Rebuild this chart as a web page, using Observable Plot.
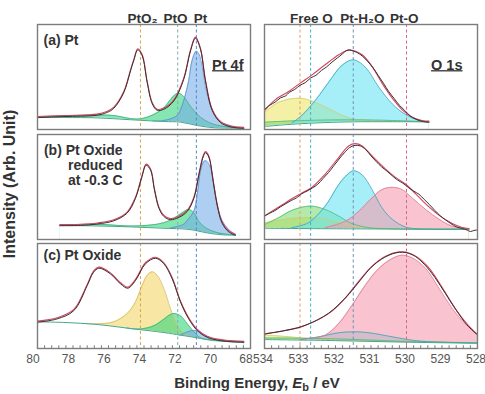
<!DOCTYPE html>
<html>
<head>
<meta charset="utf-8">
<script src="https://cdn.jsdelivr.net/npm/d3@7"></script>
<script src="https://cdn.jsdelivr.net/npm/@observablehq/plot@0.6"></script>
<style>
  body { margin: 0; background: #fff; }
  #fig { position: relative; width: 485px; height: 394px; overflow: hidden; background: #fff;
         font-family: "Liberation Sans", Arial, sans-serif; }
  #fig svg { position: absolute; overflow: visible; }
  .axis-title { position: absolute; font-weight: bold; color: #333; white-space: nowrap; }
  .axis-title sub { font-size: 11px; vertical-align: -3px; line-height: 0; }
</style>
</head>
<body>
<div id="fig"></div>
<script>
// ---------- axes ----------
const pt4fTicks = [80, 78, 76, 74, 72, 70, 68];
const o1sTicks = [534, 533, 532, 531, 530, 529, 528];

// peak positions (eV) marked by dashed guides
const pt4fPeaks = [
  {name: "PtO₂", be: 74.2, color: "#d6a54c"},
  {name: "PtO", be: 72.1, color: "#7fb0a6"},
  {name: "Pt", be: 71.05, color: "#4f8bcb"}
];
const o1sPeaks = [
  {be: 533.0, color: "#e39f6c"},
  {be: 532.7, color: "#3cb6c0"},
  {be: 531.5, color: "#6f92b6"},
  {be: 530.0, color: "#d9668a"}
];
// header labels and where they sit along the energy axis
const pt4fHeads = [
  {name: "PtO₂", at: 74.08},
  {name: "PtO", at: 72.23},
  {name: "Pt", at: 70.82}
];
const o1sHeads = [
  {name: "Free O", at: 532.68},
  {name: "Pt-H₂O", at: 531.24},
  {name: "Pt-O", at: 530.06}
];

// ---------- Pt 4f spectra [binding energy, intensity] ----------
const ptA_fit = [[80.0,11.7],[78.52,12.7],[76.64,14.0],[76.1,16.5],[75.7,20.6],[75.14,35.5],[74.76,56.2],[74.57,66.4],[74.35,76.3],[74.1,70.5],[73.82,45.1],[73.54,25.1],[73.26,18.7],[72.88,19.7],[72.32,27.6],[71.76,48.3],[71.38,75.2],[71.1,87.3],[70.82,76.8],[70.54,46.7],[70.16,18.7],[69.69,7.0],[69.13,2.9],[68.38,1.4]];
const ptA_bg = [[80,11.7],[78.5,11.4],[76.64,11.1],[74.76,9.3],[72.88,7.6],[71.94,7.0],[71.0,3.8],[70.07,1.7],[68.38,1.2]];
const ptA_PtO = [[80,11.9],[78.5,12.7],[77.1,13.6],[75.7,13.3],[74.76,10.4],[74.2,10.2],[73.45,14.3],[72.88,20.6],[72.51,28.3],[72.23,33.3],[72.04,34.6],[71.76,31.4],[71.48,24.4],[71.19,18.1],[70.82,11.7],[70.25,6.0],[69.5,2.9],[68.38,1.2]];
const ptA_Pt = [[73.5,8.2],[72.88,8.6],[72.13,13.3],[71.85,22.9],[71.66,33.6],[71.48,46.7],[71.29,65.7],[71.06,74.6],[70.91,72.1],[70.72,59.4],[70.54,40.3],[70.25,22.9],[69.88,10.2],[69.31,3.8],[68.38,1.2]];

const ptB_fit = [[78.74,13.5],[77.58,13.8],[76.64,15.1],[75.7,18.2],[74.95,25.5],[74.48,39.6],[74.14,58.5],[73.88,71.1],[73.63,66.4],[73.41,47.5],[73.16,30.2],[72.88,22.3],[72.51,19.2],[72.04,21.4],[71.57,27.0],[71.19,39.6],[70.91,61.6],[70.67,78.9],[70.54,83.0],[70.35,78.9],[70.1,55.3],[69.88,33.3],[69.6,16.0],[69.22,7.5],[68.85,4.4]];
const ptB_bg = [[78.74,13.4],[76.64,12.9],[74.76,12.0],[72.88,10.7],[71.57,9.8],[71.0,8.2],[70.25,5.7],[69.5,4.4],[68.85,4.1]];
const ptB_PtO = [[78.74,13.6],[76.64,14.5],[74.76,12.9],[73.63,13.8],[72.88,16.0],[72.32,20.1],[71.85,25.5],[71.48,28.6],[71.19,25.5],[70.91,17.3],[70.54,11.3],[69.88,6.6],[68.85,4.1]];
const ptB_Pt = [[72.51,10.9],[71.76,14.5],[71.57,18.0],[71.19,27.0],[71.0,42.8],[70.82,64.8],[70.63,74.2],[70.48,74.8],[70.25,67.9],[70.07,52.2],[69.88,32.0],[69.6,18.2],[69.22,9.3],[68.85,4.8]];

const ptC_fit = [[80.0,25.4],[78.89,28.6],[77.95,36.5],[77.2,60.3],[76.86,72.5],[76.55,76.8],[75.89,71.4],[75.32,61.9],[74.91,57.8],[74.48,65.1],[73.92,81.0],[73.35,86.3],[72.88,81.0],[72.41,66.7],[71.94,44.4],[71.48,28.6],[71.0,17.5],[70.44,11.1],[69.69,7.9],[68.94,6.6],[68.38,6.3]];
const ptC_bg = [[80,25.4],[78.52,24.8],[76.64,22.9],[74.76,19.0],[72.88,15.2],[71.94,12.7],[71.0,10.2],[70.07,7.9],[68.38,6.3]];
const ptC_PtO2 = [[77.5,23.9],[76.64,23.5],[75.7,25.4],[74.95,33.3],[74.48,44.4],[74.1,60.3],[73.82,69.8],[73.54,73.0],[73.26,69.8],[72.88,57.1],[72.51,38.1],[72.13,22.2],[71.76,14.3],[71.0,10.2],[70.07,7.9],[68.38,6.3]];
const ptC_PtO = [[75.0,19.6],[74.2,18.6],[73.45,21.6],[72.88,27.9],[72.51,32.4],[72.28,33.3],[71.94,31.1],[71.57,23.8],[71.19,15.9],[70.82,10.2],[70.25,7.9],[69.13,6.5],[68.38,6.3]];
const ptC_Pt = [[72.0,12.5],[71.6,15.5],[71.3,17.0],[71.0,16.8],[70.7,13.5],[70.4,10.2],[69.9,8.0],[69.0,6.6],[68.38,6.3]];

// ---------- O 1s spectra ----------
const oA_fit = [[533.98,18.1],[533.7,27.6],[533.32,35.5],[532.99,43.5],[532.66,51.4],[532.29,61.0],[531.91,70.5],[531.67,74.6],[531.49,74.6],[531.25,70.5],[530.97,59.4],[530.69,43.5],[530.4,29.2],[530.12,18.1],[529.84,11.1],[529.56,7.9],[529.37,7.3]];
const oA_meas = [[534.0,19.5],[533.85,23.5],[533.7,26.5],[533.55,30.5],[533.4,32.5],[533.3,35.8],[533.15,38.5],[533.0,42.5],[532.85,45.0],[532.7,49.5],[532.55,52.0],[532.4,56.5],[532.25,60.0],[532.1,64.5],[531.95,68.5],[531.8,72.5],[531.7,75.5],[531.6,76.2],[531.5,75.0],[531.4,73.8],[531.25,70.5],[531.1,65.5],[530.95,59.5],[530.8,52.0],[530.65,44.5],[530.5,36.5],[530.35,30.0],[530.2,23.5],[530.05,18.5],[529.9,13.5],[529.75,10.5],[529.6,8.5],[529.45,7.5],[529.37,7.3]];
const oA_bg = [[533.98,2.9],[533.23,5.0],[532.29,6.6],[531.5,7.3],[530.4,7.4],[529.37,7.3]];
const oA_free = [[533.98,16.5],[533.6,26.0],[532.99,29.8],[532.47,24.4],[532.0,16.5],[531.53,10.2],[531.06,8.8],[530.4,8.0],[529.37,7.3]];
const oA_mid = [[533.98,7.0],[533.23,8.2],[532.5,8.9],[531.53,9.2],[530.4,8.6],[529.37,7.3]];
const oA_h2o = [[533.23,6.0],[532.95,13.3],[532.57,27.6],[532.19,45.1],[531.82,61.0],[531.5,66.3],[531.16,59.4],[530.78,40.3],[530.4,24.4],[530.03,14.3],[529.65,8.6],[529.37,7.3]];

const oB_fit = [[533.98,22.3],[533.6,30.2],[533.23,38.1],[532.99,42.8],[532.66,49.1],[532.29,61.6],[531.91,77.4],[531.63,88.4],[531.44,90.6],[531.25,88.4],[530.97,78.9],[530.59,66.4],[530.31,58.5],[530.03,52.2],[529.74,42.8],[529.46,33.3],[529.08,22.3],[528.71,14.5],[528.43,10.7],[528.24,9.8]];
const oB_meas = [[534.0,22.5],[533.85,25.5],[533.7,28.0],[533.55,31.5],[533.4,34.5],[533.25,37.5],[533.1,40.0],[532.95,44.0],[532.8,46.5],[532.65,49.5],[532.5,53.0],[532.35,58.5],[532.2,64.0],[532.05,70.5],[531.9,77.0],[531.75,83.0],[531.6,88.0],[531.45,90.0],[531.3,89.5],[531.15,86.0],[531.0,80.0],[530.85,74.5],[530.7,69.5],[530.55,65.5],[530.4,61.0],[530.25,57.0],[530.1,54.0],[529.95,50.0],[529.8,46.5],[529.65,43.5],[529.5,38.5],[529.35,33.5],[529.2,28.0],[529.05,23.0],[528.9,19.0],[528.75,15.5],[528.6,12.5],[528.45,11.0],[528.3,9.5],[528.2,8.0],[528.1,9.0],[528.0,9.5]];
const oB_bg = [[533.98,10.7],[531.4,10.1],[528.24,9.8]];
const oB_free = [[533.98,16.0],[533.42,19.2],[532.95,20.8],[532.47,20.1],[531.91,16.0],[531.34,11.9],[530.4,10.4],[528.24,9.8]];
const oB_mid = [[533.98,14.5],[533.6,20.8],[533.23,27.7],[532.71,31.8],[532.29,28.6],[531.91,22.3],[531.53,15.1],[531.06,11.3],[530.4,10.1],[528.24,9.8]];
const oB_h2o = [[533.23,11.3],[532.76,16.0],[532.29,31.8],[531.91,52.2],[531.67,61.6],[531.49,65.4],[531.25,61.6],[530.97,47.5],[530.69,30.2],[530.4,19.2],[530.03,11.9],[529.65,10.1],[528.24,9.8]];
const oB_pto = [[532.29,11.3],[531.72,17.3],[531.34,27.0],[530.97,39.6],[530.69,47.5],[530.4,49.7],[530.12,47.5],[529.84,39.6],[529.46,28.6],[529.08,19.2],[528.71,12.6],[528.33,10.4],[528.24,10.0]];

const oC_fit = [[533.98,13.3],[533.42,16.5],[532.99,19.7],[532.57,25.4],[532.1,34.9],[531.72,47.6],[531.34,63.5],[530.97,77.8],[530.59,87.3],[530.21,91.4],[530.03,91.1],[529.74,87.3],[529.37,76.2],[528.99,57.1],[528.61,36.5],[528.28,22.2],[528.0,12.7]];
const oC_meas = [[534.0,14.2],[533.7,15.8],[533.4,17.6],[533.1,19.8],[532.8,23.2],[532.5,27.8],[532.2,33.8],[531.9,42.5],[531.6,53.0],[531.3,65.5],[531.0,77.5],[530.7,85.5],[530.4,90.5],[530.2,92.0],[530.0,91.6],[529.75,88.0],[529.5,80.6],[529.2,68.0],[528.9,52.5],[528.6,37.0],[528.3,23.0],[528.0,13.3]];
const oC_bg = [[533.98,8.5],[532.0,7.5],[530.0,6.0],[528.0,5.0]];
const oC_free = [[533.98,12.8],[533.42,11.5],[532.76,9.5],[532.29,8.6],[531.0,7.3],[529.5,6.5],[528.0,5.6]];
const oC_mid = [[533.98,10.0],[533.0,9.8],[532.0,9.2],[531.0,8.0],[530.0,6.8],[528.0,5.2]];
const oC_h2o = [[533.0,8.5],[532.47,11.1],[531.91,15.0],[531.5,15.9],[531.06,15.0],[530.4,11.1],[529.84,7.9],[529.27,6.3],[528.0,5.3]];
const oC_pto = [[533.0,8.0],[532.76,9.5],[532.29,12.7],[531.91,23.8],[531.53,41.3],[531.16,60.3],[530.78,76.2],[530.4,85.7],[530.12,88.9],[529.84,86.3],[529.46,76.2],[529.08,57.1],[528.71,38.1],[528.33,22.9],[528.0,12.7]];

// ---------- component styles (fills are semi-transparent so overlaps mix) ----------
const style = {
  PtO2: {fill: "#f2d567", stroke: "#d2bb68"},
  PtO:  {fill: "#35d57b", stroke: "#3fae7a"},
  Pt:   {fill: "#78aeea", stroke: "#5a8dd2"},
  free: {fill: "#ede66b", stroke: "#d3cb6c"},
  mid:  {fill: "#82da75", stroke: "#4fbb80"},
  h2o:  {fill: "#6be4f3", stroke: "#3e9fbc"},
  pto:  {fill: "#f59baf", stroke: "#de7893"}
};
const FILL_OPACITY = 0.6;

const FONT = '"Liberation Sans", Arial, sans-serif';
const W = 213, H = 105, PAD = 6;
const columns = {
  pt: {left: 37, domain: [80, 68], ticks: pt4fTicks, tickDx: -4.5, minorStep: 0.4, peaks: pt4fPeaks, heads: pt4fHeads, region: "Pt 4f", regionDx: -7},
  o:  {left: 264, domain: [534, 528], ticks: o1sTicks, tickDx: -1.5, minorStep: 0.2, peaks: o1sPeaks, heads: o1sHeads, region: "O 1s", regionDx: -15}
};
const rowTops = [24, 134, 243];

const panels = [
  {col: "pt", row: 0, fit: ptA_fit, meas: ptA_fit, bg: ptA_bg, comps: [[ptA_PtO, style.PtO], [ptA_Pt, style.Pt]],
   label: {text: "(a) Pt", anchor: "start", dx: 6, dy: 10}},
  {col: "pt", row: 1, fit: ptB_fit, meas: ptB_fit, bg: ptB_bg, comps: [[ptB_PtO, style.PtO], [ptB_Pt, style.Pt]],
   label: {text: "(b) Pt Oxide\nreduced\nat -0.3 C", anchor: "end", dx: 85, dy: 10}},
  {col: "pt", row: 2, fit: ptC_fit, meas: ptC_fit, bg: ptC_bg, comps: [[ptC_PtO2, style.PtO2], [ptC_PtO, style.PtO], [ptC_Pt, style.Pt]],
   label: {text: "(c) Pt Oxide", anchor: "start", dx: 6, dy: 6}},
  {col: "o", row: 0, fit: oA_fit, meas: oA_meas, bg: oA_bg, comps: [[oA_free, style.free], [oA_mid, style.mid], [oA_h2o, style.h2o]]},
  {col: "o", row: 1, fit: oB_fit, meas: oB_meas, bg: oB_bg, comps: [[oB_free, style.free], [oB_mid, style.mid], [oB_h2o, style.h2o], [oB_pto, style.pto]]},
  {col: "o", row: 2, fit: oC_fit, meas: oC_meas, bg: oC_bg, comps: [[oC_free, style.free], [oC_mid, style.mid], [oC_h2o, style.h2o], [oC_pto, style.pto]]}
];

const fig = document.getElementById("fig");
const curve = "catmull-rom";
const X = d => d[0], Y = d => d[1];

for (const p of panels) {
  const c = columns[p.col];
  const top = p.row === 0, bottom = p.row === 2;
  const mt = top ? 24 : 2;
  const mb = bottom ? 30 : 2;
  const marks = [];

  // fitted components
  for (const [data, s] of p.comps) {
    marks.push(Plot.areaY(data, {x: X, y1: 0, y2: Y, fill: s.fill, fillOpacity: FILL_OPACITY, curve}));
  }
  // nothing is filled below the background
  marks.push(Plot.areaY(p.bg, {x: X, y1: 0, y2: Y, fill: "white", curve}));
  for (const [data, s] of p.comps) {
    marks.push(Plot.line(data, {x: X, y: Y, stroke: s.stroke, strokeWidth: 0.8, curve}));
  }
  marks.push(Plot.line(p.bg, {x: X, y: Y, stroke: "#45a88c", strokeWidth: 1, curve}));

  // peak guides
  marks.push(Plot.ruleX(c.peaks, {x: "be", stroke: "color", strokeWidth: 1, strokeDasharray: "3,2.5"}));

  // fitted envelope and measured spectrum
  marks.push(Plot.line(p.fit, {x: X, y: Y, stroke: "#d5435c", strokeWidth: 1.1, curve, dy: -0.7}));
  marks.push(Plot.line(p.meas, {x: X, y: Y, stroke: "#3a3032", strokeWidth: 1, curve, dy: 0.4}));

  marks.push(Plot.frame({stroke: "#7c7c7c", strokeWidth: 1.4}));

  if (top) {
    marks.push(Plot.text(c.heads, {x: "at", text: "name", frameAnchor: "top", dy: -11,
      fontSize: 13.5, fontWeight: "bold", fill: "#333"}));
    marks.push(Plot.text([c.region], {text: d => d, frameAnchor: "top-right", textAnchor: "end",
      lineAnchor: "top", dx: c.regionDx, dy: 35, fontSize: 14.5, fontWeight: "bold", fill: "#333"}));
  }
  if (p.label) {
    marks.push(Plot.text([p.label.text], {text: d => d, frameAnchor: "top-left", textAnchor: p.label.anchor,
      lineAnchor: "top", dx: p.label.dx, dy: p.label.dy, lineHeight: 1.06,
      fontSize: 14, fontWeight: "bold", fill: "#333"}));
  }
  if (bottom) {
    const n = Math.round((c.domain[0] - c.domain[1]) / c.minorStep);
    const minor = d3.range(n + 1).map(i => c.domain[1] + i * c.minorStep);
    marks.push(Plot.ruleX(minor, {x: d => d, y1: 0, y2: 2.6, stroke: "#7c7c7c", strokeWidth: 1}));
    marks.push(Plot.axisX({ticks: c.ticks, tickSize: 0, tickPadding: 6, fontSize: 12, dx: c.tickDx,
      color: "#555", tickFormat: d => String(d), label: null}));
  }

  const svg = Plot.plot({
    width: W + 2 * PAD,
    height: H + mt + mb,
    marginLeft: PAD, marginRight: PAD, marginTop: mt, marginBottom: mb,
    style: {background: "transparent", overflow: "visible", fontFamily: FONT},
    x: bottom ? {domain: c.domain} : {domain: c.domain, axis: null},
    y: {domain: [0, 100], axis: null},
    marks
  });
  svg.style.left = (c.left - PAD) + "px";
  svg.style.top = (rowTops[p.row] - mt) + "px";
  fig.appendChild(svg);

  // underline the spectral region name
  if (top) {
    svg.querySelectorAll("text").forEach(t => {
      if (t.textContent !== c.region) return;
      const b = t.getBBox();
      const ctm = t.getCTM(), root = svg.getCTM();
      const m = root.inverse().multiply(ctm);
      const y = b.y + b.height - 2;
      const line = document.createElementNS("http://www.w3.org/2000/svg", "line");
      line.setAttribute("x1", m.a * b.x + m.e); line.setAttribute("x2", m.a * (b.x + b.width) + m.e);
      line.setAttribute("y1", m.d * y + m.f); line.setAttribute("y2", m.d * y + m.f);
      line.setAttribute("stroke", "#333"); line.setAttribute("stroke-width", 1.3);
      svg.appendChild(line);
    });
  }
}

// axis titles
const xTitle = document.createElement("div");
xTitle.className = "axis-title";
xTitle.style.cssText = "left:0;width:514px;text-align:center;top:374px;font-size:15px;";
xTitle.innerHTML = "Binding Energy, <i>E</i><sub>b</sub> / eV";
fig.appendChild(xTitle);

const yTitle = document.createElement("div");
yTitle.className = "axis-title";
yTitle.style.cssText = "left:10px;top:184px;font-size:16px;transform:translate(-50%,-50%) rotate(-90deg);";
yTitle.textContent = "Intensity (Arb. Unit)";
fig.appendChild(yTitle);
</script>
</body>
</html>
